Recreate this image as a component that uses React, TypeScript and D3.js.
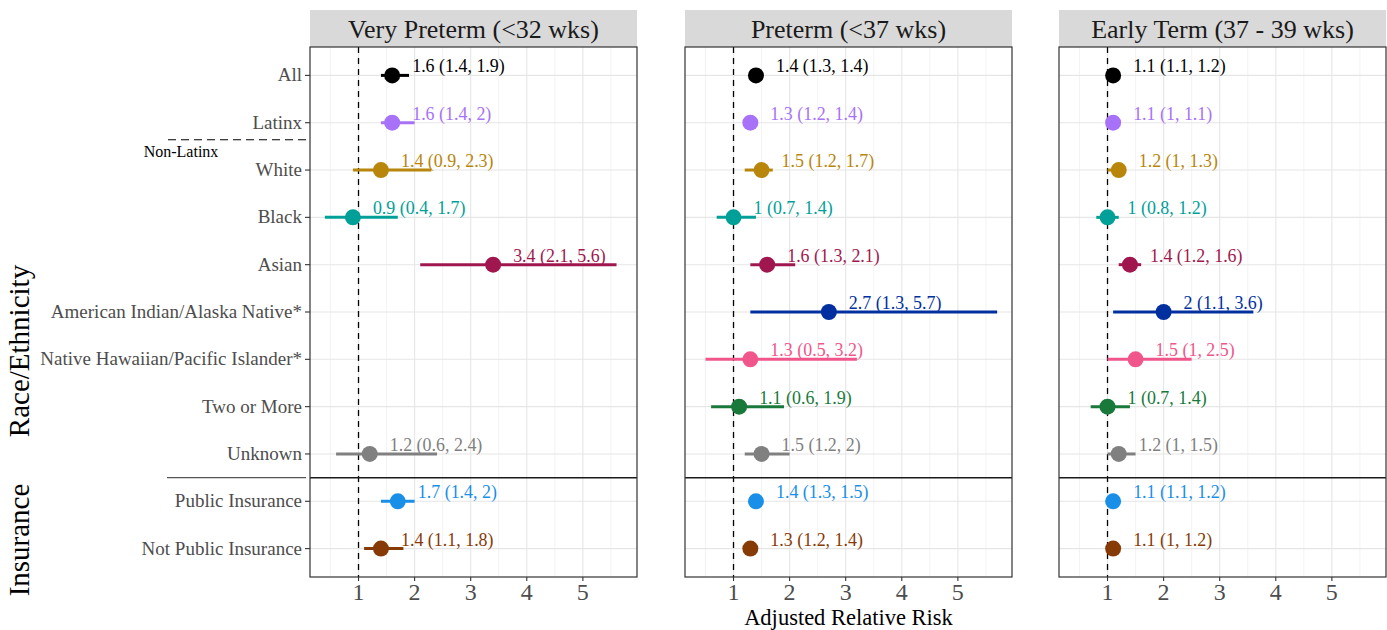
import React from 'react';
import * as d3 from 'd3';

const categories = [
  'All', 'Latinx', 'White', 'Black', 'Asian', 'American Indian/Alaska Native*',
  'Native Hawaiian/Pacific Islander*', 'Two or More', 'Unknown',
  'Public Insurance', 'Not Public Insurance',
];
const colors = [
  '#000000', '#a772f8', '#b8860b', '#009f98', '#a0174f', '#0030a0',
  '#f0568a', '#18793a', '#808080', '#1a8fe8', '#863a06',
];
const panels = ['Very Preterm (<32 wks)', 'Preterm (<37 wks)', 'Early Term (37 - 39 wks)'];

// [estimate, lower, upper] per category, null = not reported
const veryPreterm = [
  [1.6, 1.4, 1.9], [1.6, 1.4, 2], [1.4, 0.9, 2.3], [0.9, 0.4, 1.7], [3.4, 2.1, 5.6],
  null, null, null, [1.2, 0.6, 2.4], [1.7, 1.4, 2], [1.4, 1.1, 1.8],
];
const preterm = [
  [1.4, 1.3, 1.4], [1.3, 1.2, 1.4], [1.5, 1.2, 1.7], [1, 0.7, 1.4], [1.6, 1.3, 2.1],
  [2.7, 1.3, 5.7], [1.3, 0.5, 3.2], [1.1, 0.6, 1.9], [1.5, 1.2, 2], [1.4, 1.3, 1.5], [1.3, 1.2, 1.4],
];
const earlyTerm = [
  [1.1, 1.1, 1.2], [1.1, 1, 1.1], [1.2, 1, 1.3], [1, 0.8, 1.2], [1.4, 1.2, 1.6],
  [2, 1.1, 3.6], [1.5, 1, 2.5], [1, 0.7, 1.4], [1.2, 1, 1.5], [1.1, 1.1, 1.2], [1.1, 1, 1.2],
];
const xTicks = [1, 2, 3, 4, 5];
const xMinor = [0.5, 1.5, 2.5, 3.5, 4.5, 5.5];

const series = [veryPreterm, preterm, earlyTerm];
const panelX = [310, 685, 1059];
const panelW = 327;
const top = 47;
const bottom = 577;
const font = '"Liberation Serif", "Times New Roman", serif';

export default function App() {
  const y = d3.scalePoint<string>().domain(categories).range([top, bottom]).padding(0.6);
  const step = y.step();
  const lo = 0.4, hi = 5.7, pad = (hi - lo) * 0.05;
  const sepY = (y('Unknown')! + y('Public Insurance')!) / 2;
  const dashY = y('Latinx')! + step * 0.36;

  return (
    <svg width={1387} height={630} style={{ position: 'absolute', left: 0, top: 0, fontFamily: font }}>
      <rect width={1387} height={630} fill="white" />
      {panels.map((title, p) => {
        const x = d3.scaleLinear().domain([lo - pad, hi + pad]).range([panelX[p], panelX[p] + panelW]);
        const data = series[p];
        return (
          <g key={title}>
            <rect x={panelX[p]} y={10} width={panelW} height={top - 10} fill="#d9d9d9" />
            <text x={panelX[p] + panelW / 2} y={38} textAnchor="middle" fontSize={26} fill="#1a1a1a">{title}</text>
            {xMinor.map(v => (
              <line key={'m' + v} x1={x(v)} x2={x(v)} y1={top} y2={bottom} stroke="#f0f0f0" strokeWidth={0.8} />
            ))}
            {xTicks.map(v => (
              <line key={'g' + v} x1={x(v)} x2={x(v)} y1={top} y2={bottom} stroke="#e6e6e6" strokeWidth={1.1} />
            ))}
            {categories.map(c => (
              <line key={'h' + c} x1={panelX[p]} x2={panelX[p] + panelW} y1={y(c)} y2={y(c)} stroke="#e6e6e6" strokeWidth={1.1} />
            ))}
            <line x1={x(1)} x2={x(1)} y1={top} y2={bottom} stroke="#000" strokeWidth={1.3} strokeDasharray="6,5" />
            <line x1={panelX[p]} x2={panelX[p] + panelW} y1={sepY} y2={sepY} stroke="#1a1a1a" strokeWidth={1.5} />
            {data.map((d, i) => d && (
              <g key={categories[i]}>
                <line x1={x(d[1])} x2={x(d[2])} y1={y(categories[i])} y2={y(categories[i])} stroke={colors[i]} strokeWidth={3} />
                <circle cx={x(d[0])} cy={y(categories[i])} r={8} fill={colors[i]} />
                <text transform={`translate(${x(d[0]) + 20}, ${y(categories[i])! - 3}) scale(0.92, 1)`} fontSize={19.5} fill={colors[i]}>
                  {`${d[0]} (${d[1]}, ${d[2]})`}
                </text>
              </g>
            ))}
            <rect x={panelX[p]} y={top} width={panelW} height={bottom - top} fill="none" stroke="#333" strokeWidth={1.2} />
            {xTicks.map(v => (
              <g key={'t' + v}>
                <line x1={x(v)} x2={x(v)} y1={bottom} y2={bottom + 4} stroke="#333" strokeWidth={1.1} />
                <text x={x(v)} y={600} textAnchor="middle" fontSize={24} fill="#4d4d4d">{v}</text>
              </g>
            ))}
          </g>
        );
      })}
      {categories.map(c => (
        <g key={'yl' + c}>
          <line x1={panelX[0] - 5} x2={panelX[0]} y1={y(c)} y2={y(c)} stroke="#333" strokeWidth={1.1} />
          <text x={panelX[0] - 8} y={y(c)! + 6} textAnchor="end" fontSize={19} fill="#4d4d4d">{c}</text>
        </g>
      ))}
      <line x1={168} x2={307} y1={dashY} y2={dashY} stroke="#000" strokeWidth={1.2} strokeDasharray="8,5" />
      <text x={181} y={157} textAnchor="middle" fontSize={16} fill="#000">Non-Latinx</text>
      <line x1={167} x2={306} y1={sepY} y2={sepY} stroke="#555" strokeWidth={1.3} />
      <text transform={`translate(29, 351) rotate(-90)`} textAnchor="middle" fontSize={29} fill="#000">Race/Ethnicity</text>
      <text transform={`translate(29, 540) rotate(-90)`} textAnchor="middle" fontSize={29} fill="#000">Insurance</text>
      <text x={panelX[1] + panelW / 2} y={625} textAnchor="middle" fontSize={22.5} fill="#000">Adjusted Relative Risk</text>
    </svg>
  );
}
